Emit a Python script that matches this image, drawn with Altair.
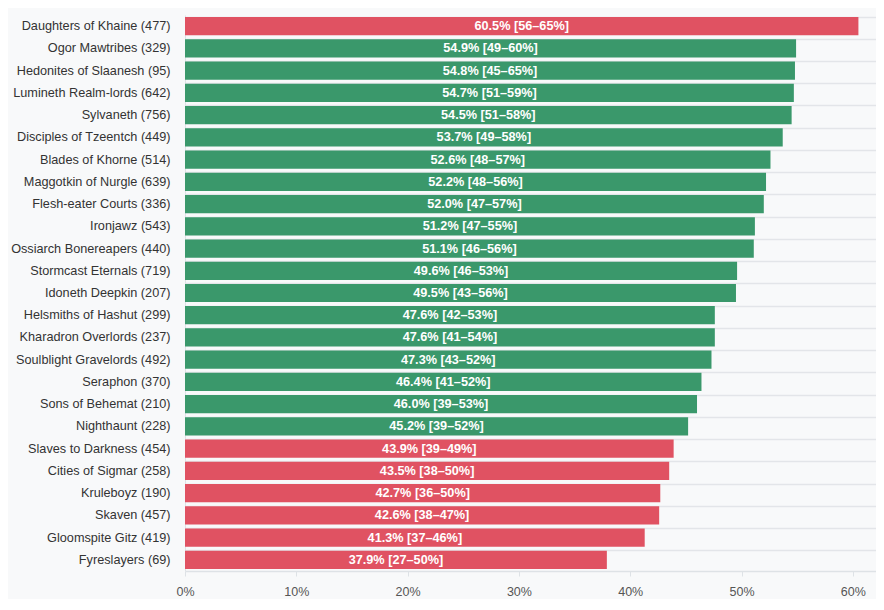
import altair as alt
import pandas as pd

factions = [
    "Daughters of Khaine (477)", "Ogor Mawtribes (329)", "Hedonites of Slaanesh (95)",
    "Lumineth Realm-lords (642)", "Sylvaneth (756)", "Disciples of Tzeentch (449)",
    "Blades of Khorne (514)", "Maggotkin of Nurgle (639)", "Flesh-eater Courts (336)",
    "Ironjawz (543)", "Ossiarch Bonereapers (440)", "Stormcast Eternals (719)",
    "Idoneth Deepkin (207)", "Helsmiths of Hashut (299)", "Kharadron Overlords (237)",
    "Soulblight Gravelords (492)", "Seraphon (370)", "Sons of Behemat (210)",
    "Nighthaunt (228)", "Slaves to Darkness (454)", "Cities of Sigmar (258)",
    "Kruleboyz (190)", "Skaven (457)", "Gloomspite Gitz (419)", "Fyreslayers (69)",
]
win_rate = [60.5, 54.9, 54.8, 54.7, 54.5, 53.7, 52.6, 52.2, 52.0, 51.2, 51.1, 49.6,
            49.5, 47.6, 47.6, 47.3, 46.4, 46.0, 45.2, 43.9, 43.5, 42.7, 42.6, 41.3, 37.9]
ci_low = [56, 49, 45, 51, 51, 49, 48, 48, 47, 47, 46, 46,
          43, 42, 41, 43, 41, 39, 39, 39, 38, 36, 38, 37, 27]
ci_high = [65, 60, 65, 59, 58, 58, 57, 56, 57, 55, 56, 53,
           56, 53, 54, 52, 52, 53, 52, 49, 50, 50, 47, 46, 50]
status = ["out"] + ["in"] * 18 + ["out"] * 6

df = pd.DataFrame({
    "faction": factions,
    "rate": [v / 100 for v in win_rate],
    "label": [f"{v:.1f}% [{lo}\u2013{hi}%]" for v, lo, hi in zip(win_rate, ci_low, ci_high)],
    "status": status,
})

FONT = "Liberation Sans"

y = alt.Y(
    "faction:N", sort=factions, title=None,
    scale=alt.Scale(paddingInner=0.18, paddingOuter=0.09),
    axis=alt.Axis(
        ticks=False, labelPadding=15, labelFontSize=12.7, labelColor="#333333",
        labelFont=FONT, domain=True, domainColor="#dee2e6", grid=True,
        gridColor="#e3e5e9", gridWidth=1.5, bandPosition=0, labelLimit=300,
    ),
)

bars = alt.Chart(df).mark_bar().encode(
    x=alt.X(
        "rate:Q", title=None,
        scale=alt.Scale(domain=[0, 0.6208], nice=False, zero=True),
        axis=alt.Axis(
            format=".0%", values=[0, 0.1, 0.2, 0.3, 0.4, 0.5, 0.6], grid=False,
            tickColor="#dee2e6", tickSize=5, domainColor="#dee2e6", domainWidth=1.5,
            labelFontSize=12.5, labelColor="#555555", labelFont=FONT, labelPadding=9,
            labelFlush=False,
        ),
    ),
    y=y,
    color=alt.Color(
        "status:N", legend=None,
        scale=alt.Scale(domain=["in", "out"], range=["#3a986b", "#e05262"]),
    ),
)

text = alt.Chart(df).transform_calculate(mid="datum.rate / 2").mark_text(
    color="white", fontWeight="bold", fontSize=12.7, font=FONT, baseline="middle", align="center"
).encode(
    x=alt.X("mid:Q"),
    y=alt.Y("faction:N", sort=factions),
    text="label:N",
)

chart = (bars + text).properties(
    width=691, height=556,
    autosize=alt.AutoSizeParams(type="none"),
    padding={"left": 177, "top": 7, "right": 0, "bottom": 28},
    background="#f8f9fa",
).configure_view(stroke=None)

chart.save("out.html", embed_options={"renderer": "svg", "actions": False})
